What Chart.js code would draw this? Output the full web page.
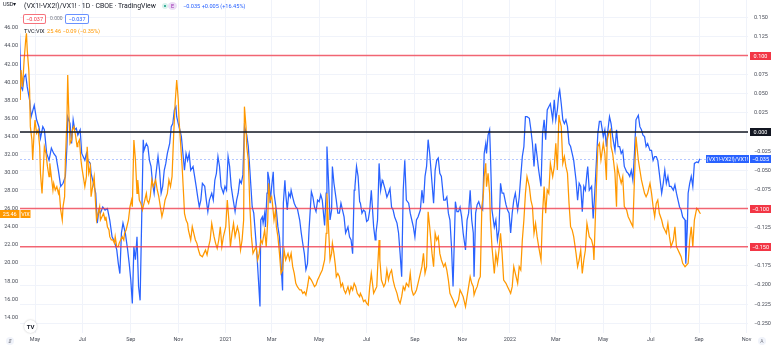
<!DOCTYPE html>
<html>
<head>
<meta charset="utf-8">
<script src="https://cdn.jsdelivr.net/npm/chart.js@4.4.1/dist/chart.umd.min.js"></script>
<style>
    html, body { margin: 0; padding: 0; background: #fff; }
    #wrap { position: relative; width: 773px; height: 347px; font-family: Roboto, sans-serif; overflow: hidden; }
    #spreadChart { position: absolute; left: 0; top: 0; }
    .lbl { position: absolute; white-space: nowrap; line-height: 1; }
    .box { position: absolute; height: 8px; border-radius: 2px; font-size: 5.5px; line-height: 8px; text-align: center; background: #fff; }
    .round { position: absolute; border-radius: 50%; text-align: center; }
</style>
</head>
<body>
<div id="wrap">
    <canvas id="spreadChart" width="773" height="347"></canvas>

    <!-- legend block, top left -->
    <div class="lbl" style="left:3px; top:2px; font-size:5.5px; color:#131722;">USD&#9662;</div>
    <div class="lbl" style="left:24px; top:2.5px; font-size:6.9px; color:#131722;">(VX1!-VX2!)/VX1! · 1D · CBOE · TradingView</div>
    <div class="round" style="left:162px; top:3px; width:6px; height:6px; background:#d9f2ec;"></div>
    <div class="round" style="left:164px; top:5px; width:2px; height:2px; background:#089981;"></div>
    <div class="round" style="left:168px; top:2px; width:9px; height:8px; background:#eadcf5; color:#9c27b0; font-size:5.5px; line-height:8px;">E</div>
    <div class="lbl" style="left:183px; top:3.5px; font-size:5.6px; color:#2962ff;">−0.035 +0.005 (+16.45%)</div>

    <div class="box" style="left:23px; top:13.5px; width:21px; border:0.8px solid rgba(242,54,69,0.7); color:#f23645;">−0.037</div>
    <div class="lbl" style="left:50px; top:15.5px; font-size:5px; color:#787b86;">0.000</div>
    <div class="box" style="left:65px; top:13.5px; width:22px; border:0.8px solid rgba(41,98,255,0.7); color:#2962ff;">−0.037</div>

    <div class="lbl" style="left:24px; top:28.5px; font-size:5.6px; color:#131722;">TVC:VIX</div>
    <div class="lbl" style="left:47px; top:28.5px; font-size:5.6px; color:#ff9800;">25.46 −0.09 (−0.35%)</div>

    <!-- logo and corner buttons -->
    <div class="round" style="left:24px; top:320px; width:13px; height:13px; background:#fff; box-shadow:0 0 2px rgba(0,0,0,0.25); font-size:6px; font-weight:bold; line-height:13px; color:#131722;">TV</div>
    <div class="round" style="left:6px; top:337px; width:8px; height:8px; background:#f0f3fa; font-size:5px; line-height:8px; color:#787b86;">⇵</div>
    <div class="round" style="left:758px; top:337px; width:8px; height:8px; background:#f0f3fa; font-size:5px; line-height:8px; color:#787b86;">A</div>
</div>

<script>
// ==========================================================================
// DATA
// days are counted from 2020-05-01
// ==========================================================================

// (VX1!-VX2!)/VX1! daily ratio
const ratioDays = [
    -20, -18, -16, -14, -12, -10, -7, -5, -1, 2, 5, 7, 10, 12, 15, 18, 21, 24, 27, 30, 33, 36, 39, 41, 42, 45, 47, 49, 51, 53, 55, 58,
    60, 64, 66, 68, 71, 72, 76, 78, 80, 82, 84, 87, 90, 93, 96, 99, 102, 105, 107, 109, 111, 113, 116, 119, 121, 123,
    125, 127, 129, 131, 133, 135, 137, 139, 140, 143, 145, 147, 149, 151, 153, 155, 158, 160, 162, 164, 166, 168, 170, 173, 175, 177,
    179, 181, 182, 184, 186, 188, 190, 192, 194, 196, 198, 200, 203, 205, 207, 209, 211, 213, 215, 218, 220, 222, 224, 227, 229, 231,
    233, 235, 237, 239, 242, 244, 246, 248, 250, 252, 254, 257, 259, 261, 263, 265, 267, 269,
    271, 272, 274, 276, 279, 281, 283, 285, 287, 289, 290, 292, 293, 295, 296, 298, 299, 301, 302, 304, 306, 307, 310, 312, 314, 316,
    318, 319, 321, 322, 324, 326, 328, 329, 331, 333, 335, 337, 340, 342, 344, 346, 348, 350, 352, 355, 357, 359, 361, 363, 365, 367,
    369, 372, 374, 375, 377, 379, 381, 382, 384, 387, 389, 391, 393, 395, 397, 399, 402, 404, 406, 408, 410, 411, 413, 415, 417,
    418, 420, 422, 424, 426, 428, 430, 432, 435, 437, 438, 440, 442, 444, 446, 447, 450, 452, 454, 456, 458, 460, 462, 465, 467, 469,
    471, 473, 475, 477, 480, 482, 484, 486, 488, 490, 492, 495, 497, 499, 501, 503, 505, 507, 510, 512, 514, 516, 518, 520, 522, 525,
    527, 529, 531, 533, 535, 537, 540, 542, 544, 546, 548, 550, 553, 555, 557, 559, 561, 563,
    564, 566, 568, 570, 572, 575, 577, 579, 580, 582, 584, 585, 587, 590, 592, 594, 596, 598, 600, 602, 605, 607, 609, 611, 613, 615,
    617, 620, 622, 624, 626, 628, 630, 632, 635, 637, 639, 641, 643, 645, 647, 650, 652, 654, 656, 658, 660, 662, 665, 667, 669, 671,
    673, 674, 676, 678, 680, 682, 684, 686, 688, 690, 692, 695, 697, 699, 701, 703, 705, 707, 709,
    710, 712, 715, 717, 719, 721, 723, 725, 727, 730, 732, 734, 736, 738, 740, 742, 745, 747, 749, 751, 753, 755, 757, 760, 762, 764,
    766, 768, 770, 772, 775, 777, 779, 781, 783, 785, 787, 790, 792, 794, 796, 798, 800, 802, 805, 807, 809, 811, 813, 815, 817, 820,
    822, 824, 826, 828, 830, 832, 835, 836, 838, 839, 841, 843, 845, 847, 850, 852, 854
];
const ratioValues = [
    0.129, 0.059, 0.055, 0.072, 0.075, 0.059, 0.042, 0.020, 0.035, 0.016, 0.007, -0.008, 0.007, 0.003, -0.028, -0.037, -0.021, -0.028, -0.032, -0.050, -0.071, -0.067, -0.058, -0.019, 0.020, 0.011, -0.015, 0.016, 0.003, 0.005, -0.004, 0.003,
    -0.028, -0.037, -0.028, -0.037, -0.041, -0.054, -0.071, -0.080, -0.119, -0.102, -0.106, -0.098, -0.102, -0.100, -0.115, -0.137, -0.143, -0.154, -0.172, -0.185, -0.132, -0.119, -0.132, -0.154, -0.172, -0.193,
    -0.224, -0.150, -0.167, -0.137, -0.202, -0.220, -0.115, -0.010, -0.024, -0.015, -0.019, -0.037, -0.045, -0.067, -0.080, -0.058, -0.032, -0.050, -0.080, -0.071, -0.050, -0.041, -0.028, -0.015, 0.007, 0.011,
    0.029, 0.033, 0.020, 0.011, 0.003, -0.006, -0.028, -0.050, -0.028, -0.037, -0.028, -0.050, -0.045, -0.058, -0.071, -0.085, -0.098, -0.089, -0.067, -0.071, -0.089, -0.104, -0.089, -0.080, -0.089, -0.063,
    -0.054, -0.032, -0.045, -0.071, -0.080, -0.071, -0.076, -0.032, -0.045, -0.071, -0.085, -0.104, -0.089, -0.080, -0.063, -0.067, -0.056, 0.007,
    0.000, -0.004, -0.019, -0.050, -0.098, -0.106, -0.132, -0.159, -0.193, -0.228, -0.115, -0.111, -0.119, -0.106, -0.124, -0.080, -0.052, -0.063, -0.093, -0.071, -0.052, -0.080, -0.102, -0.124, -0.137, -0.172,
    -0.207, -0.093, -0.063, -0.080, -0.102, -0.080, -0.085, -0.076, -0.085, -0.093, -0.098, -0.100, -0.115, -0.132, -0.146, -0.159, -0.180, -0.172, -0.128, -0.078, -0.085, -0.098, -0.104, -0.089, -0.091, -0.082,
    -0.089, -0.122, -0.080, -0.019, -0.063, -0.115, -0.102, -0.045, -0.067, -0.089, -0.106, -0.106, -0.093, -0.102, -0.111, -0.132, -0.124, -0.137, -0.141, -0.159, -0.076, -0.071, -0.045, -0.058, -0.091,
    -0.093, -0.106, -0.102, -0.104, -0.117, -0.115, -0.102, -0.076, -0.124, -0.141, -0.132, -0.115, -0.041, -0.076, -0.063, -0.065, -0.076, -0.085, -0.080, -0.074, -0.098, -0.102, -0.111, -0.119, -0.132, -0.159,
    -0.189, -0.076, -0.037, -0.089, -0.093, -0.106, -0.115, -0.124, -0.137, -0.115, -0.111, -0.102, -0.076, -0.093, -0.058, -0.045, -0.010, -0.028, -0.067, -0.093, -0.050, -0.037, -0.034, -0.054, -0.058, -0.089,
    -0.089, -0.085, -0.106, -0.115, -0.150, -0.202, -0.091, -0.104, -0.104, -0.098, -0.111, -0.132, -0.154, -0.115, -0.106, -0.076, -0.115, -0.132,
    -0.189, -0.106, -0.095, -0.091, -0.098, -0.102, -0.028, -0.015, -0.028, -0.004, 0.003, -0.028, -0.102, -0.124, -0.115, -0.141, -0.128, -0.067, -0.080, -0.080, -0.095, -0.102, -0.106, -0.132, -0.106, -0.089,
    -0.080, -0.102, -0.085, -0.058, -0.032, -0.019, 0.020, 0.020, 0.018, 0.003, -0.015, -0.045, -0.015, -0.032, -0.050, -0.071, -0.002, 0.016, -0.010, 0.029, 0.033, 0.037, 0.016, 0.042, 0.016, 0.029,
    0.051, 0.055, 0.037, 0.016, 0.011, 0.016, 0.007, -0.015, -0.019, -0.028, -0.037, -0.063, -0.089, -0.067, -0.071, -0.104, -0.071, -0.076, -0.054,
    -0.045, -0.076, -0.071, -0.113, -0.080, -0.041, -0.002, 0.014, 0.014, -0.006, 0.003, -0.019, 0.003, 0.020, 0.011, -0.006, -0.024, 0.003, -0.019, -0.019, -0.028, -0.024, -0.045, -0.052, -0.054, -0.058,
    -0.050, -0.063, -0.028, 0.016, 0.022, 0.007, 0.003, -0.004, -0.006, -0.019, -0.015, -0.024, -0.024, -0.037, -0.032, -0.032, -0.037, -0.054, -0.080, -0.067, -0.050, -0.067, -0.058, -0.071, -0.071, -0.076,
    -0.069, -0.080, -0.089, -0.098, -0.102, -0.111, -0.115, -0.172, -0.124, -0.080, -0.067, -0.058, -0.071, -0.041, -0.039, -0.040, -0.035
];

// TVC:VIX close
const vixDays = [
    -19, -18, -16, -14, -12, -11, -10, -8, -7, -6, -4, -3, -1, 0, 2, 4, 6, 7, 9, 11, 12, 14, 16, 18, 19, 21, 23, 24, 26, 28, 30, 31,
    33, 35, 36, 38, 39, 41, 42, 43, 45, 47, 48, 50, 52, 54, 55, 57, 59, 60, 62, 64, 66, 67, 69, 71, 72, 74, 76, 78, 79, 81, 83, 84,
    86, 88, 90, 91, 93, 95, 96, 98, 100, 102, 103, 105, 107, 108, 110, 112, 114, 115, 117, 119, 120, 122, 124,
    125, 127, 129, 131, 132, 134, 136, 138, 140, 143, 144, 146, 148, 150, 152, 155, 157, 159, 161, 163, 165, 167, 170, 172, 174, 176,
    178, 180, 182, 184, 185, 187, 189, 191, 192, 194, 196, 197, 200, 202, 204, 206, 208, 210, 212, 215, 217, 219, 221, 223, 225, 227,
    230, 232, 234, 236, 238, 240, 242, 245, 247, 249, 251, 253, 255, 257, 260, 262, 264, 266, 268, 269,
    271, 272, 274, 276, 278, 280, 282, 284, 286, 288, 290, 292, 295, 297, 299, 300, 302, 304, 305, 307, 309, 310, 312, 314, 316, 318,
    320, 322, 325, 327, 329, 331, 333, 335, 337, 340, 342, 344, 346, 348, 350, 352, 355, 357, 359, 361, 363, 365, 367, 369, 372, 374,
    375, 377, 379, 381, 382, 384, 386, 387, 389, 391, 393, 395, 397, 399, 402, 404, 406, 408, 410, 412, 414, 417,
    418, 420, 422, 424, 426, 428, 430, 432, 435, 437, 439, 440, 442, 443, 445, 448, 450, 452, 454, 456, 458, 460, 462, 465, 467, 469,
    471, 473, 475, 477, 480, 482, 484, 486, 488, 490, 492, 495, 497, 499, 501, 503, 505, 507, 510, 512, 514, 516, 518, 520, 522, 525,
    527, 529, 531, 533, 535, 537, 540, 542, 544, 546, 548, 550, 553, 555, 557, 559, 561, 563,
    564, 566, 568, 570, 572, 574, 576, 577, 579, 580, 582, 584, 585, 587, 590, 592, 594, 596, 598, 600, 602, 605, 607, 609, 611, 613,
    615, 617, 620, 622, 624, 626, 628, 630, 632, 635, 637, 639, 641, 643, 645, 647, 650, 652, 654, 656, 658, 660, 662, 665, 667, 669,
    671, 673, 674, 676, 678, 680, 682, 684, 686, 688, 690, 692, 695, 697, 699, 701, 703, 705, 707, 709,
    712, 715, 717, 718, 720, 721, 723, 725, 727, 730, 732, 734, 735, 737, 739, 740, 742, 745, 747, 748, 750, 751, 753, 755, 757, 760,
    762, 764, 766, 768, 770, 772, 775, 777, 779, 781, 783, 785, 787, 790, 792, 794, 796, 798, 800, 802, 805, 807, 809, 811, 813, 815,
    817, 820, 822, 824, 826, 828, 830, 832, 835, 837, 839, 841, 843, 845, 847, 850, 852, 854, 855
];
const vixValues = [
    38.04, 41.35, 39.51, 42.46, 44.67, 45.41, 43.57, 41.35, 39.14, 35.09, 33.61, 31.40, 34.72, 35.82, 34.35, 34.72, 32.87, 29.92, 27.71, 31.03, 32.87, 32.14, 30.66, 29.55, 31.03, 29.55, 28.08, 28.82, 28.08, 28.45, 27.71, 28.08,
    25.87, 24.76, 26.24, 27.34, 31.40, 35.82, 40.80, 37.67, 33.24, 33.61, 34.72, 35.09, 34.16, 32.87, 33.24, 33.61, 31.40, 30.66, 29.55, 28.45, 29.55, 32.87, 29.92, 30.66, 27.34, 28.45, 29.55, 26.24, 24.76, 25.50, 26.24, 24.76,
    25.13, 25.50, 24.76, 25.13, 24.02, 23.66, 22.92, 22.55, 22.55, 22.18, 22.92, 21.81, 21.81, 22.18, 22.55, 22.92, 22.55, 23.29, 23.66, 24.39, 24.76, 26.24, 26.97,
    26.24, 33.61, 31.40, 27.71, 29.19, 26.97, 26.60, 25.87, 26.60, 27.71, 26.97, 26.60, 27.34, 29.19, 28.45, 29.19, 28.08, 27.34, 26.24, 25.13, 25.87, 26.97, 27.71, 29.19, 28.45, 29.55,
    33.98, 37.67, 40.25, 38.04, 35.82, 33.24, 30.66, 27.34, 25.50, 24.76, 24.39, 23.66, 22.55, 24.02, 23.29, 22.55, 22.18, 21.44, 20.89, 20.70, 21.07, 21.44, 20.89, 21.81, 22.55, 24.39,
    22.92, 22.18, 21.63, 22.55, 24.02, 21.81, 22.92, 24.02, 26.97, 24.76, 21.81, 23.29, 24.39, 22.92, 24.02, 23.29, 21.44, 22.55, 24.76, 37.30,
    35.09, 32.87, 31.40, 26.24, 22.92, 21.07, 21.44, 21.81, 20.34, 21.07, 22.55, 22.18, 23.66, 21.81, 24.76, 28.82, 26.97, 27.34, 26.60, 24.76, 25.87, 24.02, 22.92, 21.07, 18.86, 19.23,
    21.44, 20.34, 21.07, 20.34, 21.07, 19.60, 18.86, 17.76, 17.39, 17.02, 17.02, 16.65, 16.83, 16.47, 17.39, 18.49, 18.12, 17.76, 17.39, 17.57, 18.12, 18.49, 18.86, 19.23, 20.34, 23.29,
    27.71, 24.02, 20.34, 21.07, 22.18, 21.07, 19.60, 18.49, 18.86, 18.49, 17.39, 17.76, 17.02, 16.65, 17.39, 16.65, 17.39, 17.02, 17.76, 17.39, 16.65, 16.28,
    16.65, 16.28, 15.73, 15.91, 15.54, 15.36, 17.39, 18.86, 16.65, 17.02, 17.39, 19.23, 22.55, 20.34, 18.12, 17.39, 17.76, 19.23, 18.12, 18.86, 19.23, 18.12, 17.39, 16.65, 15.91, 15.54,
    16.28, 17.39, 17.02, 17.76, 17.39, 18.86, 17.02, 16.47, 16.65, 17.02, 17.76, 18.86, 19.60, 21.07, 18.86, 19.60, 25.68, 24.02, 21.07, 19.60, 23.29, 22.55, 22.92, 21.07, 20.34, 19.60,
    19.97, 19.23, 18.12, 16.65, 16.28, 15.91, 15.17, 15.54, 15.91, 17.02, 16.65, 16.28, 15.17, 16.28, 17.39, 18.49, 17.76, 17.39,
    16.47, 17.02, 17.39, 18.12, 18.49, 26.24, 27.71, 29.55, 31.03, 28.45, 29.92, 27.71, 24.76, 21.81, 18.86, 21.07, 19.97, 21.44, 23.29, 21.07, 18.12, 17.76, 17.39, 17.02, 16.65, 17.39,
    19.60, 18.86, 17.76, 19.60, 19.23, 22.55, 24.76, 27.71, 29.55, 28.45, 26.97, 26.24, 23.29, 24.39, 22.92, 21.81, 20.34, 25.50, 28.45, 25.50, 28.08, 27.71, 31.03, 29.55, 30.66, 33.24,
    30.29, 36.38, 35.82, 35.09, 31.03, 31.77, 30.66, 29.92, 26.60, 24.02, 23.66, 22.92, 21.07, 19.60, 20.34, 21.44, 18.86, 20.34, 21.44, 24.39,
    22.92, 22.55, 21.81, 20.34, 25.50, 28.08, 32.87, 33.24, 31.40, 33.24, 32.14, 29.19, 33.61, 34.35, 34.72, 32.87, 32.14, 29.92, 26.24, 30.66, 29.92, 29.55, 28.82, 29.55, 26.24, 25.87,
    25.13, 24.76, 24.39, 24.02, 29.19, 33.98, 31.40, 30.29, 29.19, 28.45, 27.71, 27.34, 27.71, 28.82, 27.71, 26.24, 25.13, 26.60, 26.97, 25.50, 24.76, 24.02, 23.66, 23.29, 24.39, 22.92,
    21.81, 22.55, 24.02, 21.81, 21.44, 21.07, 20.70, 19.97, 19.60, 19.78, 19.97, 22.55, 24.02, 21.81, 24.76, 26.05, 25.87, 25.55, 25.46
];

// axis ticks
const monthTicks = [0, 61, 123, 184, 245, 304, 365, 426, 488, 549, 610, 669, 730, 791, 853, 914];
const monthLabels = ['May', 'Jul', 'Sep', 'Nov', '2021', 'Mar', 'May', 'Jul', 'Sep', 'Nov', '2022', 'Mar', 'May', 'Jul', 'Sep', 'Nov'];
const ratioTicks = [0.150, 0.125, 0.100, 0.075, 0.050, 0.025, 0, -0.025, -0.050, -0.075, -0.100, -0.125, -0.150, -0.175, -0.200, -0.225, -0.250];
const vixTicks = [46, 44, 42, 40, 38, 36, 34, 32, 30, 28, 26, 24, 22, 20, 18, 16, 14];

// horizontal levels drawn on the ratio scale
const redLevels = [0.100, -0.100, -0.150];
const zeroLevel = 0;

const lastRatio = ratioValues[ratioValues.length - 1];
const lastVix = vixValues[vixValues.length - 1];

// ==========================================================================
// HELPERS
// ==========================================================================
const TV_BLUE = '#2962ff';
const TV_ORANGE = '#ff9800';
const TV_RED = '#f23645';
const TV_INK = '#131722';
const GRID = '#f0f3fa';

const fmt3 = v => v.toFixed(3).replace('-', '−');

function hLine(ctx, area, y, color, width) {
    ctx.strokeStyle = color;
    ctx.lineWidth = width;
    ctx.beginPath();
    ctx.moveTo(area.left, y);
    ctx.lineTo(area.right, y);
    ctx.stroke();
}

function tag(ctx, x, y, w, text, bg) {
    ctx.fillStyle = bg;
    ctx.fillRect(x, Math.round(y) - 4, w, 8);
    ctx.fillStyle = '#fff';
    ctx.textAlign = 'center';
    ctx.textBaseline = 'middle';
    ctx.fillText(text, x + w / 2, Math.round(y) + 0.5);
}

// keep the plot flush with the canvas edges (no label padding)
function noPadding(scale) {
    scale.paddingTop = 0;
    scale.paddingBottom = 0;
    scale.paddingLeft = 0;
    scale.paddingRight = 0;
}

// level lines, price line and axis tags
const levelPlugin = {
    id: 'levelPlugin',
    beforeDatasetsDraw(chart) {
        const { ctx, chartArea, scales } = chart;
        const y = Math.round(scales.yR.getPixelForValue(lastRatio)) + 0.5;
        ctx.save();
        ctx.setLineDash([2, 2]);
        hLine(ctx, chartArea, y, 'rgba(41, 98, 255, 0.35)', 1);
        ctx.restore();
    },
    afterDatasetsDraw(chart) {
        const { ctx, chartArea, scales } = chart;
        ctx.save();
        redLevels.forEach(v => {
            hLine(ctx, chartArea, scales.yR.getPixelForValue(v), 'rgba(242, 54, 69, 0.75)', 1.5);
        });
        hLine(ctx, chartArea, scales.yR.getPixelForValue(zeroLevel), TV_INK, 1.5);
        ctx.restore();
    },
    afterDraw(chart) {
        const { ctx, chartArea, scales } = chart;
        const yR = scales.yR;
        const yL = scales.yL;
        const x = chartArea.right + 2;
        ctx.save();
        ctx.font = '5.5px Roboto, sans-serif';
        redLevels.forEach(v => tag(ctx, x, yR.getPixelForValue(v), 21, fmt3(v), TV_RED));
        tag(ctx, x, yR.getPixelForValue(zeroLevel), 21, fmt3(zeroLevel), TV_INK);

        const yLast = yR.getPixelForValue(lastRatio);
        tag(ctx, x, yLast, 21, fmt3(lastRatio), TV_BLUE);
        tag(ctx, chartArea.right - 42, yLast, 43, '(VX1!-VX2!)/VX1!', TV_BLUE);

        const yVix = yL.getPixelForValue(lastVix);
        tag(ctx, 0, yVix, 19.5, lastVix.toFixed(2), TV_ORANGE);
        tag(ctx, 20.5, yVix, 10, 'VIX', TV_ORANGE);
        ctx.restore();
    }
};

// ==========================================================================
// CHART
// ==========================================================================
Chart.defaults.font.family = 'Roboto, sans-serif';

const ctx = document.getElementById('spreadChart').getContext('2d');

new Chart(ctx, {
    type: 'line',
    data: {
        datasets: [
            {
                label: 'TVC:VIX',
                data: vixDays.map((d, i) => ({ x: d, y: vixValues[i] })),
                yAxisID: 'yL',
                borderColor: TV_ORANGE,
                borderWidth: 1.25,
                pointRadius: 0,
                tension: 0,
                order: 1
            },
            {
                label: '(VX1!-VX2!)/VX1!',
                data: ratioDays.map((d, i) => ({ x: d, y: ratioValues[i] })),
                yAxisID: 'yR',
                borderColor: TV_BLUE,
                borderWidth: 1.25,
                pointRadius: 0,
                tension: 0,
                order: 2
            }
        ]
    },
    options: {
        responsive: false,
        animation: false,
        devicePixelRatio: 1,
        layout: { padding: 0, autoPadding: false },
        plugins: {
            legend: { display: false },
            tooltip: { enabled: false }
        },
        scales: {
            x: {
                type: 'linear',
                min: -19.3,
                max: 915.9,
                afterBuildTicks: scale => { scale.ticks = monthTicks.map(v => ({ value: v })); },
                afterFit: scale => { scale.height = 14; noPadding(scale); },
                grid: { color: GRID, drawTicks: false },
                border: { display: false },
                ticks: {
                    autoSkip: false,
                    maxRotation: 0,
                    padding: 3,
                    color: '#4a4e59',
                    font: { size: 5.5 },
                    callback: (v, i) => monthLabels[i]
                }
            },
            yR: {
                position: 'right',
                min: -0.2627,
                max: 0.1726,
                afterBuildTicks: scale => { scale.ticks = ratioTicks.map(v => ({ value: v })); },
                afterFit: scale => { scale.width = 25; noPadding(scale); },
                grid: { color: GRID, drawTicks: false },
                border: { display: false },
                ticks: {
                    padding: 6,
                    color: '#4a4e59',
                    font: { size: 5.5 },
                    callback: v => fmt3(v)
                }
            },
            yL: {
                position: 'left',
                min: 12.263,
                max: 49.097,
                afterBuildTicks: scale => { scale.ticks = vixTicks.map(v => ({ value: v })); },
                afterFit: scale => { scale.width = 20; noPadding(scale); },
                grid: { display: false, drawTicks: false },
                border: { display: false },
                ticks: {
                    padding: 2,
                    color: '#4a4e59',
                    font: { size: 5.5 },
                    callback: v => v.toFixed(2)
                }
            }
        }
    },
    plugins: [levelPlugin]
});
</script>
</body>
</html>
